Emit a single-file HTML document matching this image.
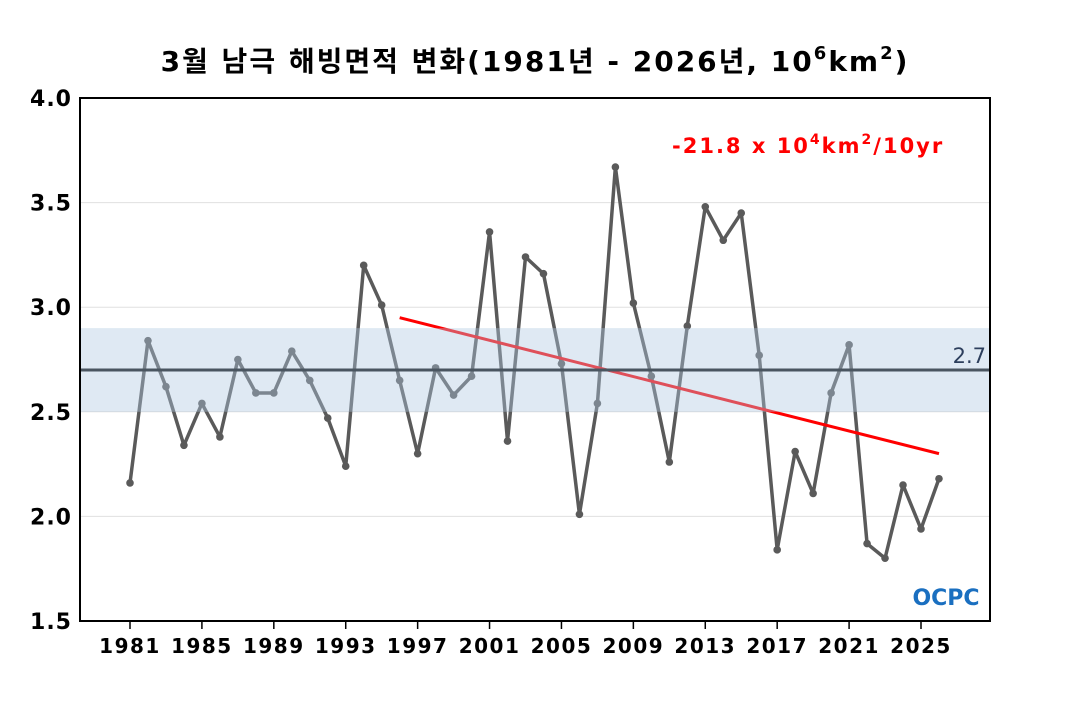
<!DOCTYPE html>
<html><head><meta charset="utf-8"><style>
body{margin:0;background:#fff;}
svg text{font-family:"DejaVu Sans","Noto Sans CJK KR",sans-serif;}
</style></head><body>
<svg id="c" width="1070" height="700" xmlns="http://www.w3.org/2000/svg">
<text x="535" y="71" text-anchor="middle" font-size="28" font-weight="bold" letter-spacing="2" fill="#000">3월 남극 해빙면적 변화(1981년 - 2026년, 10<tspan dy="-12" font-size="18">6</tspan><tspan dy="12">km</tspan><tspan dy="-12" font-size="18">2</tspan><tspan dy="12">)</tspan></text>
<g id="grid"></g>
<g id="series"></g>
<g id="overlay"></g>
<g id="axes"></g>
<text x="672" y="153" font-size="21" font-weight="bold" letter-spacing="2" fill="#ff0000">-21.8 x 10<tspan dy="-9" font-size="14">4</tspan><tspan dy="9">km</tspan><tspan dy="-9" font-size="14">2</tspan><tspan dy="9">/10yr</tspan></text>
<g>
<text x="946" y="605" text-anchor="middle" font-size="22" font-weight="bold" fill="#1a6fc0">OCPC</text>
</g>
</svg>
<script>
const years=[];for(let y=1981;y<=2026;y++)years.push(y);
const values=[2.16,2.84,2.62,2.34,2.54,2.38,2.75,2.59,2.59,2.79,2.65,2.47,2.24,3.20,3.01,2.65,2.30,2.71,2.58,2.67,3.36,2.36,3.24,3.16,2.73,2.01,2.54,3.67,3.02,2.67,2.26,2.91,3.48,3.32,3.45,2.77,1.84,2.31,2.11,2.59,2.82,1.87,1.80,2.15,1.94,2.18];
const yTicks=[1.5,2.0,2.5,3.0,3.5,4.0];
const xTicks=[1981,1985,1989,1993,1997,2001,2005,2009,2013,2017,2021,2025];
const meanVal=[2.7];
const bandRange=[2.5,2.9];
const trendYears=[1996,2026];
const trendVals=[2.95,2.30];
const L=80,R=990,T=98,B=621;
const X=y=>130+(y-1981)*(921-130)/44;
const Y=v=>B-(v-1.5)*(B-T)/2.5;
const NS="http://www.w3.org/2000/svg";
function mk(tag,attrs,parent){const e=document.createElementNS(NS,tag);for(const k in attrs)e.setAttribute(k,attrs[k]);document.getElementById(parent).appendChild(e);return e;}
yTicks.forEach(v=>{if(v>1.5&&v<4){const g=mk('line',{x1:L,x2:R,y1:Y(v),y2:Y(v),stroke:'#e0e0e0','stroke-width':1},'grid');

}});
let d=values.map((v,i)=>(i?'L':'M')+X(years[i])+','+Y(v)).join('');
const ln=mk('path',{d:d,fill:'none',stroke:'#5a5a5a','stroke-width':3.5,'stroke-linejoin':'round'},'series');


values.forEach((v,i)=>{const c=mk('circle',{cx:X(years[i]),cy:Y(v),r:3.8,fill:'#5a5a5a'},'series');

});
const tr=mk('line',{x1:X(trendYears[0]),y1:Y(trendVals[0]),x2:X(trendYears[1]),y2:Y(trendVals[1]),stroke:'#ff0000','stroke-width':3},'series');


const band=mk('rect',{x:L,y:Y(bandRange[1]),width:R-L,height:Y(bandRange[0])-Y(bandRange[1]),fill:'rgba(175,200,225,0.4)'},'overlay');


const ml=mk('line',{x1:L,x2:R,y1:Y(meanVal[0]),y2:Y(meanVal[0]),stroke:'#4a5560','stroke-width':3},'overlay');


const mt=mk('text',{x:986,y:Y(meanVal[0])-7,'text-anchor':'end','font-size':21,fill:'#2c3e5c'},'overlay');mt.textContent=meanVal[0].toFixed(1);


const fr=mk('rect',{x:L,y:T,width:R-L,height:B-T,fill:'none',stroke:'#000','stroke-width':2},'axes');


yTicks.forEach(v=>{const t=mk('text',{x:72,y:Y(v)+8,'text-anchor':'end','font-size':22,'font-weight':'bold','letter-spacing':1},'axes');t.textContent=v.toFixed(1);

});
xTicks.forEach(y=>{const t=mk('text',{x:X(y),y:653,'text-anchor':'middle','font-size':20,'font-weight':'bold','letter-spacing':1.5},'axes');t.textContent=y;


const k=mk('line',{x1:X(y),x2:X(y),y1:B,y2:B+8,stroke:'#000','stroke-width':1.5},'axes');

});
</script>
</body></html>
